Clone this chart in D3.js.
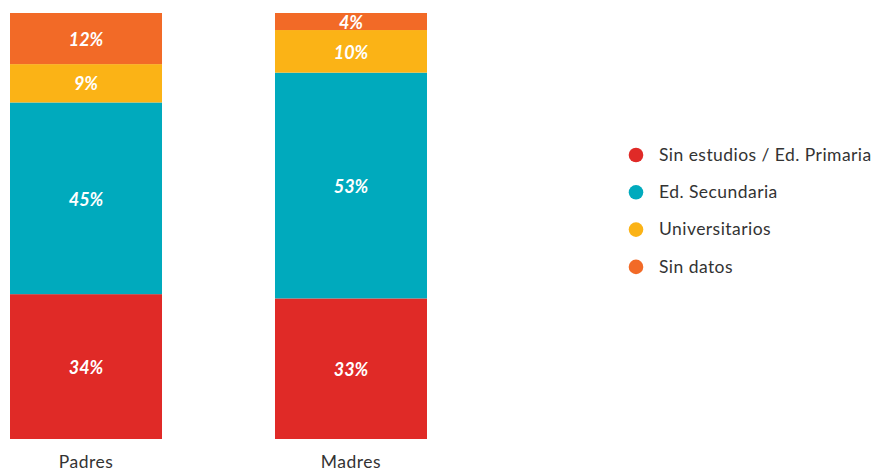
<!DOCTYPE html>
<html>
<head>
<meta charset="utf-8">
<script src="https://cdn.jsdelivr.net/npm/d3@7"></script>
<style>
  html, body { margin: 0; padding: 0; background: #fff; }
  svg { display: block; }
</style>
</head>
<body>
<svg id="chart" width="873" height="472"></svg>
<script>
// Nivel de estudios de padres y madres (% del total)
const groups = ["Padres", "Madres"];
const levels = ["Sin estudios / Ed. Primaria", "Ed. Secundaria", "Universitarios", "Sin datos"];
const padres = [34, 45, 9, 12];
const madres = [33, 53, 10, 4];
const colors = ["#E02A27", "#00AABD", "#FBB316", "#F26A27"];

const rows = groups.map((g, i) => {
  const vals = i === 0 ? padres : madres;
  const r = { group: g };
  levels.forEach((l, j) => r[l] = vals[j]);
  return r;
});

const svg = d3.select("#chart");
const font = "Lato, 'Open Sans', sans-serif";

const x = d3.scaleBand().domain(groups).range([10, 427]).paddingInner(0.4264).paddingOuter(0);
const y = d3.scaleLinear().domain([0, 100]).range([439, 13]);
const color = d3.scaleOrdinal().domain(levels).range(colors);

const stacked = d3.stack().keys(levels)(rows);

const layer = svg.append("g").selectAll("g")
  .data(stacked).join("g")
  .attr("fill", d => color(d.key));

layer.selectAll("rect")
  .data(d => d.map(s => ({ s, key: d.key })))
  .join("rect")
  .attr("x", d => x(d.s.data.group))
  .attr("width", x.bandwidth())
  .attr("y", d => y(d.s[1]))
  .attr("height", d => y(d.s[0]) - y(d.s[1]));

layer.selectAll("text")
  .data(d => d.map(s => ({ s, key: d.key })))
  .join("text")
  .attr("x", d => x(d.s.data.group) + x.bandwidth() / 2)
  .attr("y", d => (y(d.s[0]) + y(d.s[1])) / 2)
  .attr("dy", "0.4em")
  .attr("text-anchor", "middle")
  .attr("fill", "#fff")
  .style("font-family", font)
  .style("font-weight", "bold")
  .style("font-style", "italic")
  .style("font-size", "18px")
  .text(d => (d.s[1] - d.s[0]) + "%");

// Category axis labels
const xAxis = d3.axisBottom(x).tickSize(0).tickPadding(0);
const ax = svg.append("g").attr("transform", "translate(0,456)").call(xAxis);
ax.select(".domain").remove();
ax.selectAll("text")
  .attr("dy", "0.71em")
  .attr("fill", "#333")
  .style("font-family", font)
  .style("font-size", "17.5px")
  .style("letter-spacing", "0.5px");

// Legend
const legend = svg.append("g").selectAll("g")
  .data(levels).join("g")
  .attr("transform", (d, i) => `translate(636,${155 + i * 37.3})`);
legend.append("circle").attr("r", 7.3).attr("fill", d => color(d));
legend.append("text")
  .attr("x", 23)
  .attr("dy", "0.33em")
  .attr("fill", "#333")
  .style("font-family", font)
  .style("font-size", "17.5px")
  .style("letter-spacing", "0.45px")
  .text(d => d);
</script>
</body>
</html>
